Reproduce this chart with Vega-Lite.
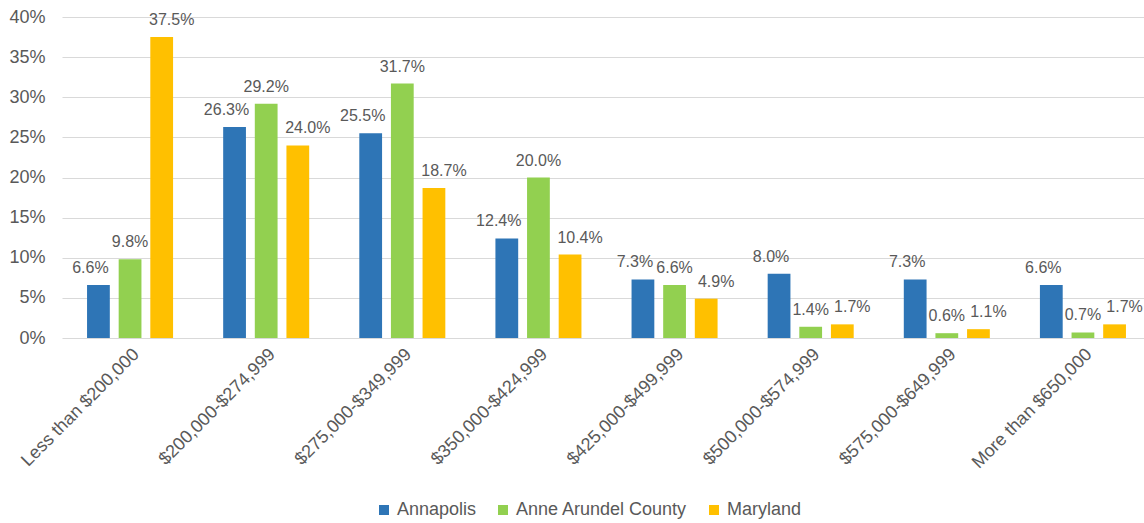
{
  "$schema": "https://vega.github.io/schema/vega-lite/v6.json",
  "width": 1082,
  "height": 321,
  "autosize": {"type": "none"},
  "padding": {"left": 62, "right": 0, "top": 17, "bottom": 185},
  "background": "white",
  "config": {
    "font": "Liberation Sans",
    "view": {"stroke": null},
    "axis": {"labelColor": "#595959", "labelFontSize": 18, "labelFont": "Liberation Sans"},
    "legend": {"labelColor": "#595959", "labelFontSize": 18, "labelFont": "Liberation Sans", "labelLimit": 400}
  },
  "data": {
    "values": [
      {"range": "Less than $200,000", "area": "Annapolis", "value": 0.066},
      {"range": "Less than $200,000", "area": "Anne Arundel County", "value": 0.098},
      {"range": "Less than $200,000", "area": "Maryland", "value": 0.375},
      {"range": "$200,000-$274,999", "area": "Annapolis", "value": 0.263},
      {"range": "$200,000-$274,999", "area": "Anne Arundel County", "value": 0.292},
      {"range": "$200,000-$274,999", "area": "Maryland", "value": 0.240},
      {"range": "$275,000-$349,999", "area": "Annapolis", "value": 0.255},
      {"range": "$275,000-$349,999", "area": "Anne Arundel County", "value": 0.317},
      {"range": "$275,000-$349,999", "area": "Maryland", "value": 0.187},
      {"range": "$350,000-$424,999", "area": "Annapolis", "value": 0.124},
      {"range": "$350,000-$424,999", "area": "Anne Arundel County", "value": 0.200},
      {"range": "$350,000-$424,999", "area": "Maryland", "value": 0.104},
      {"range": "$425,000-$499,999", "area": "Annapolis", "value": 0.073},
      {"range": "$425,000-$499,999", "area": "Anne Arundel County", "value": 0.066},
      {"range": "$425,000-$499,999", "area": "Maryland", "value": 0.049},
      {"range": "$500,000-$574,999", "area": "Annapolis", "value": 0.080},
      {"range": "$500,000-$574,999", "area": "Anne Arundel County", "value": 0.014},
      {"range": "$500,000-$574,999", "area": "Maryland", "value": 0.017},
      {"range": "$575,000-$649,999", "area": "Annapolis", "value": 0.073},
      {"range": "$575,000-$649,999", "area": "Anne Arundel County", "value": 0.006},
      {"range": "$575,000-$649,999", "area": "Maryland", "value": 0.011},
      {"range": "More than $650,000", "area": "Annapolis", "value": 0.066},
      {"range": "More than $650,000", "area": "Anne Arundel County", "value": 0.007},
      {"range": "More than $650,000", "area": "Maryland", "value": 0.017}
    ]
  },
  "encoding": {
    "x": {
      "field": "range", "type": "nominal", "sort": null, "title": null,
      "scale": {"range": [0, 1089], "paddingInner": 0.368, "paddingOuter": 0.184},
      "axis": {"labelAngle": -45, "ticks": false, "domain": false, "labelPadding": 7, "labelLimit": 300}
    },
    "xOffset": {
      "field": "area", "type": "nominal", "sort": ["Annapolis", "Anne Arundel County", "Maryland"],
      "scale": {"paddingInner": 0.28, "paddingOuter": 0}
    },
    "y": {
      "field": "value", "type": "quantitative", "title": null,
      "scale": {"domain": [0, 0.4], "nice": false},
      "axis": {"format": ".0%", "values": [0, 0.05, 0.1, 0.15, 0.2, 0.25, 0.3, 0.35, 0.4], "domain": false, "ticks": false, "gridColor": "#D9D9D9", "gridWidth": 1.2, "labelPadding": 17}
    }
  },
  "layer": [
    {
      "mark": {"type": "bar"},
      "encoding": {
        "color": {
          "field": "area", "type": "nominal", "sort": ["Annapolis", "Anne Arundel County", "Maryland"],
          "scale": {"domain": ["Annapolis", "Anne Arundel County", "Maryland"], "range": ["#2E75B6", "#92D050", "#FFC000"]},
          "legend": {"orient": "none", "legendX": 313, "legendY": 484, "direction": "horizontal", "title": null, "symbolType": "square", "symbolStrokeWidth": 0, "symbolSize": 100, "columnPadding": 17, "labelOffset": 4}
        }
      }
    },
    {
      "transform": [{"filter": "datum.area === 'Annapolis'"}],
      "mark": {"type": "text", "baseline": "alphabetic", "dy": -12, "dx": -8, "fontSize": 16, "color": "#595959"},
      "encoding": {
        "text": {"field": "value", "type": "quantitative", "format": ".1%"}
      }
    },
    {
      "transform": [{"filter": "datum.area === 'Anne Arundel County'"}],
      "mark": {"type": "text", "baseline": "alphabetic", "dy": -12, "fontSize": 16, "color": "#595959"},
      "encoding": {
        "text": {"field": "value", "type": "quantitative", "format": ".1%"}
      }
    },
    {
      "transform": [{"filter": "datum.area === 'Maryland'"}],
      "mark": {"type": "text", "baseline": "alphabetic", "dy": -12, "dx": 10, "fontSize": 16, "color": "#595959"},
      "encoding": {
        "text": {"field": "value", "type": "quantitative", "format": ".1%"}
      }
    }
  ]
}
